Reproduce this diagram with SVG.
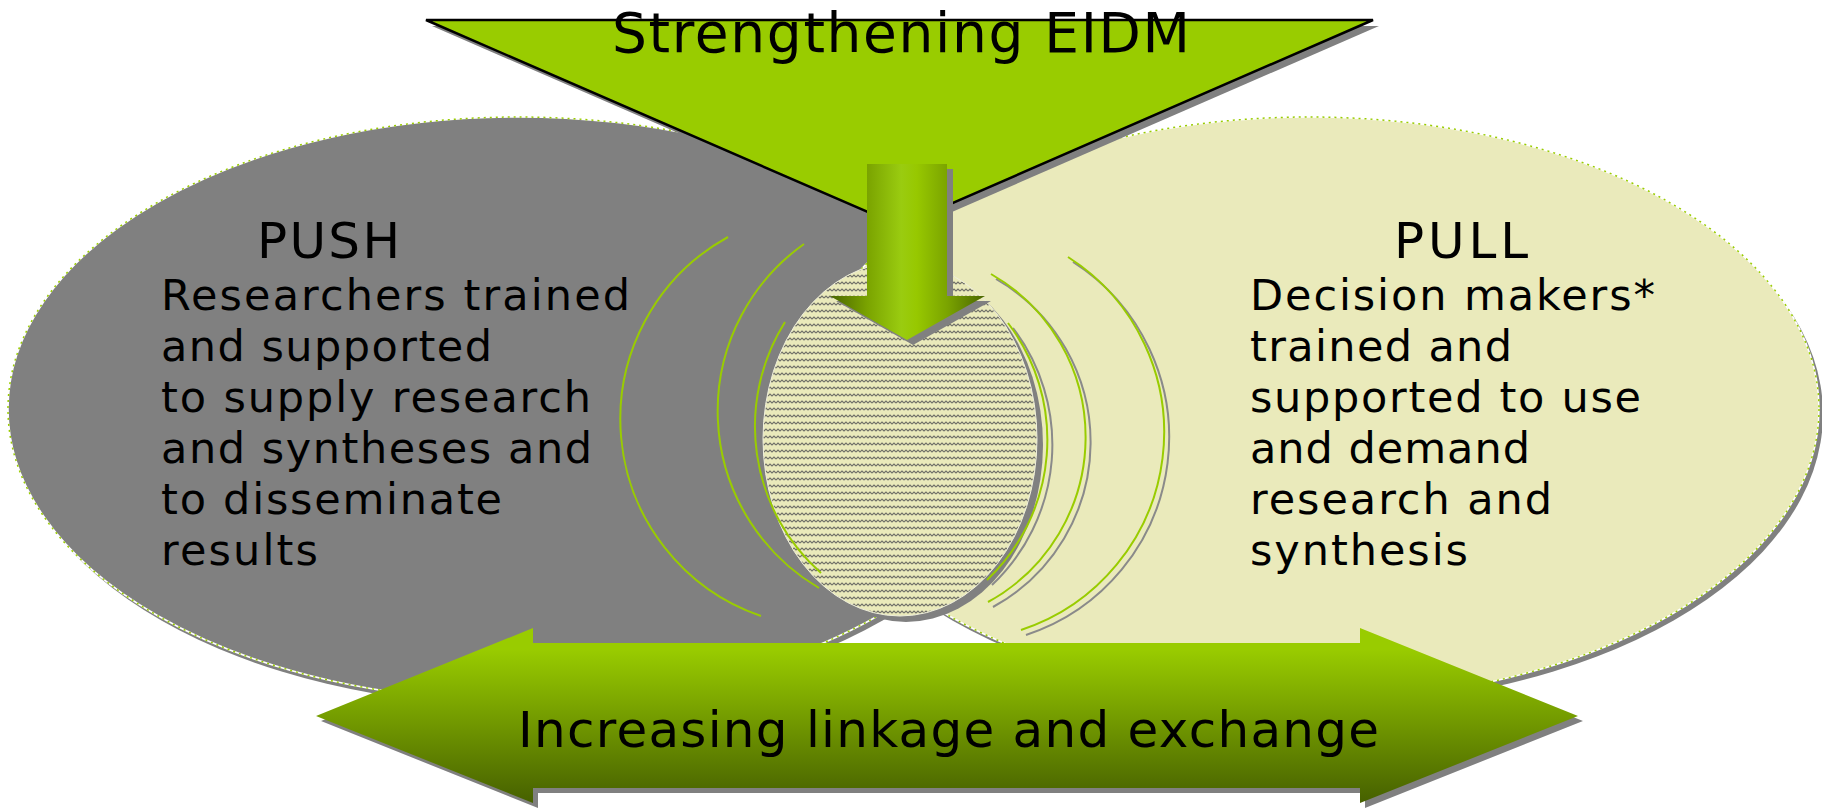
<svg xmlns="http://www.w3.org/2000/svg" width="1822" height="809" viewBox="0 0 1822 809">
<defs>
<style>
.t{font-family:"DejaVu Sans","Liberation Sans",sans-serif;fill:#000}
.body{font-size:43px}
.head{font-size:50px}
.sh{fill:#808080}
.arc{fill:none;stroke:#99cc00;stroke-width:2}
.arcsh{fill:none;stroke:#8a8a8a;stroke-width:2}
.edge{fill:none;stroke:#99cc00;stroke-width:1.5;stroke-dasharray:2 4}
</style>
<linearGradient id="gDown" gradientUnits="userSpaceOnUse" x1="830" y1="0" x2="985" y2="0">
<stop offset="0" stop-color="#4a6600"/>
<stop offset="0.24" stop-color="#7aa300"/>
<stop offset="0.46" stop-color="#9acc10"/>
<stop offset="0.56" stop-color="#97c800"/>
<stop offset="0.76" stop-color="#7aa300"/>
<stop offset="1" stop-color="#4a6600"/>
</linearGradient>
<linearGradient id="gBottom" gradientUnits="userSpaceOnUse" x1="0" y1="628" x2="0" y2="803">
<stop offset="0" stop-color="#99cc00"/>
<stop offset="0.12" stop-color="#99cc00"/>
<stop offset="1" stop-color="#466000"/>
</linearGradient>
<pattern id="wave" width="8" height="7" patternUnits="userSpaceOnUse">
<rect width="8" height="7" fill="#eaeabb"/>
<path d="M0,4 L2,2 L4,4 L6,2 L8,4" fill="none" stroke="#707068" stroke-width="1.1"/>
</pattern>
</defs>
<rect width="1822" height="809" fill="#fff"/>

<g id="push">
<ellipse cx="522" cy="414" rx="510" ry="292" class="sh"/>
<ellipse cx="518" cy="409" rx="510" ry="292" fill="#808080" stroke="#fff" stroke-width="1.5"/>
<ellipse cx="518" cy="409" rx="510" ry="292" class="edge"/>
<text class="t head" x="257" y="258" textLength="143" lengthAdjust="spacing">PUSH</text>
<text class="t body" x="161" y="310" textLength="469" lengthAdjust="spacing">Researchers trained</text>
<text class="t body" x="161" y="361" textLength="331" lengthAdjust="spacing">and supported</text>
<text class="t body" x="161" y="412" textLength="430" lengthAdjust="spacing">to supply research</text>
<text class="t body" x="161" y="463" textLength="431" lengthAdjust="spacing">and syntheses and</text>
<text class="t body" x="161" y="514" textLength="341" lengthAdjust="spacing">to disseminate</text>
<text class="t body" x="161" y="565" textLength="157" lengthAdjust="spacing">results</text>
</g>

<g id="pull">
<ellipse cx="1313" cy="414" rx="510" ry="292" class="sh"/>
<ellipse cx="1309" cy="409" rx="510" ry="292" fill="#eaeabb" stroke="#fff" stroke-width="1.5"/>
<ellipse cx="1309" cy="409" rx="510" ry="292" class="edge"/>
<text class="t head" x="1394" y="258" textLength="134" lengthAdjust="spacing">PULL</text>
<text class="t body" x="1250" y="310" textLength="405" lengthAdjust="spacing">Decision makers*</text>
<text class="t body" x="1250" y="361" textLength="262" lengthAdjust="spacing">trained and</text>
<text class="t body" x="1250" y="412" textLength="391" lengthAdjust="spacing">supported to use</text>
<text class="t body" x="1250" y="463" textLength="280" lengthAdjust="spacing">and demand</text>
<text class="t body" x="1250" y="514" textLength="302" lengthAdjust="spacing">research and</text>
<text class="t body" x="1250" y="565" textLength="218" lengthAdjust="spacing">synthesis</text>
</g>

<g id="strengthening">
<polygon points="432,26 1379,26 906,232" class="sh"/>
<polygon points="426,20 1373,20 900,226" fill="#99cc00" stroke="#000" stroke-width="2.5" stroke-linejoin="miter"/>
<text class="t" x="901" y="52" font-size="55" text-anchor="middle" textLength="578" lengthAdjust="spacing">Strengthening EIDM</text>
</g>

<g id="center">
<ellipse cx="906" cy="445" rx="137" ry="177" class="sh"/>
<ellipse cx="900" cy="439" rx="137" ry="177" fill="url(#wave)" stroke="#f0f0dc" stroke-width="1"/>
</g>

<g id="connectors">
<path d="M728,237 A208,208 0 0 0 761,616" class="arc"/>
<path d="M804,244 A205,205 0 0 0 819,588" class="arc"/>
<path d="M785,322 A196,196 0 0 0 821,573" class="arc"/>
<g transform="translate(5,5)">
<path d="M991,274 A188,188 0 0 1 988,602" class="arcsh"/>
<path d="M1008,323 A193,193 0 0 1 987,580" class="arcsh"/>
<path d="M1068,257 A208,208 0 0 1 1021,630" class="arcsh"/>
</g>
<path d="M991,274 A188,188 0 0 1 988,602" class="arc"/>
<path d="M1008,323 A193,193 0 0 1 987,580" class="arc"/>
<path d="M1068,257 A208,208 0 0 1 1021,630" class="arc"/>
<g id="down-arrow">
<polygon points="873,169 953,169 953,301 991,301 913,345 836,301 873,301" class="sh"/>
<polygon points="867,164 947,164 947,296 985,296 907,340 830,296 867,296" fill="url(#gDown)"/>
</g>
</g>

<g id="linkage">
<polygon points="321,721 538,633 538,648 1365,648 1365,633 1583,721 1365,808 1365,793 538,793 538,808" class="sh"/>
<polygon points="316,716 533,628 533,643 1360,643 1360,628 1578,716 1360,803 1360,788 533,788 533,803" fill="url(#gBottom)"/>
<text class="t head" x="518" y="747" textLength="861" lengthAdjust="spacing">Increasing linkage and exchange</text>
</g>
</svg>
